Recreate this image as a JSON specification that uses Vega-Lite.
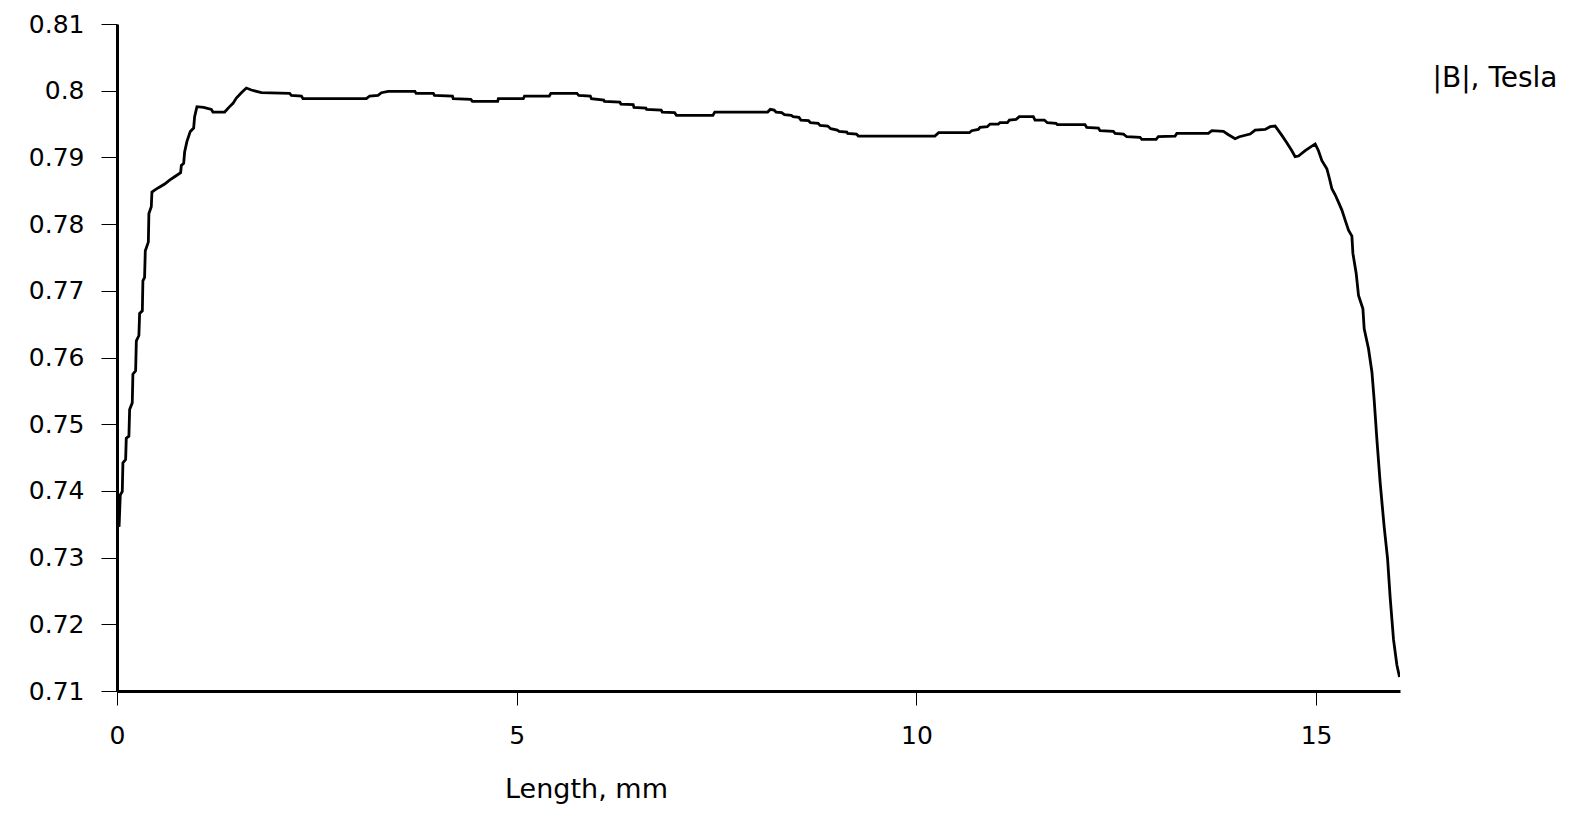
{
  "$schema": "https://vega.github.io/schema/vega-lite/v6.json",
  "width": 1283,
  "height": 667,
  "autosize": {"type": "none"},
  "padding": {"left": 117, "top": 24, "right": 174, "bottom": 135},
  "background": "white",
  "config": {"view": {"stroke": null}, "font": "DejaVu Sans"},
  "data": {"values": [
    {"L":0,"B":0.7343},{"L":0.014,"B":0.7384},{"L":0.026,"B":0.7346},{"L":0.041,"B":0.7394},
    {"L":0.066,"B":0.7399},{"L":0.074,"B":0.7442},{"L":0.108,"B":0.7447},{"L":0.116,"B":0.7479},
    {"L":0.149,"B":0.7482},{"L":0.158,"B":0.7522},{"L":0.191,"B":0.7532},{"L":0.199,"B":0.7575},
    {"L":0.233,"B":0.758},{"L":0.242,"B":0.7625},{"L":0.274,"B":0.7633},{"L":0.283,"B":0.7666},
    {"L":0.317,"B":0.767},{"L":0.324,"B":0.7715},{"L":0.345,"B":0.772},{"L":0.354,"B":0.776},
    {"L":0.392,"B":0.7773},{"L":0.399,"B":0.7816},{"L":0.429,"B":0.7826},{"L":0.437,"B":0.7848},
    {"L":0.471,"B":0.7851},{"L":0.524,"B":0.7855},{"L":0.596,"B":0.786},{"L":0.658,"B":0.7866},
    {"L":0.721,"B":0.7871},{"L":0.796,"B":0.7877},{"L":0.805,"B":0.7888},{"L":0.834,"B":0.7891},
    {"L":0.846,"B":0.7908},{"L":0.875,"B":0.7924},{"L":0.917,"B":0.7939},{"L":0.959,"B":0.7944},
    {"L":0.971,"B":0.7961},{"L":1.0,"B":0.7976},{"L":1.084,"B":0.7975},{"L":1.18,"B":0.7972},
    {"L":1.2,"B":0.7968},{"L":1.347,"B":0.7968},{"L":1.4,"B":0.7975},{"L":1.451,"B":0.7981},
    {"L":1.493,"B":0.7989},{"L":1.556,"B":0.7997},{"L":1.618,"B":0.8004},{"L":1.681,"B":0.8001},
    {"L":1.806,"B":0.7997},{"L":2.16,"B":0.7996},{"L":2.181,"B":0.7993},{"L":2.307,"B":0.7992},
    {"L":2.327,"B":0.7988},{"L":3.12,"B":0.7988},{"L":3.161,"B":0.7992},{"L":3.265,"B":0.7993},
    {"L":3.308,"B":0.7997},{"L":3.392,"B":0.7999},{"L":3.727,"B":0.7999},{"L":3.742,"B":0.7996},
    {"L":3.957,"B":0.7996},{"L":3.971,"B":0.7993},{"L":4.196,"B":0.7992},{"L":4.206,"B":0.7988},
    {"L":4.426,"B":0.7987},{"L":4.446,"B":0.7984},{"L":4.762,"B":0.7984},{"L":4.771,"B":0.7988},
    {"L":5.083,"B":0.7988},{"L":5.098,"B":0.7992},{"L":5.408,"B":0.7992},{"L":5.428,"B":0.7996},
    {"L":5.753,"B":0.7996},{"L":5.777,"B":0.7993},{"L":5.921,"B":0.7992},{"L":5.935,"B":0.7988},
    {"L":6.089,"B":0.7986},{"L":6.098,"B":0.7984},{"L":6.29,"B":0.7983},{"L":6.304,"B":0.798},
    {"L":6.457,"B":0.7979},{"L":6.467,"B":0.7975},{"L":6.616,"B":0.7974},{"L":6.625,"B":0.7972},
    {"L":6.807,"B":0.7971},{"L":6.821,"B":0.7968},{"L":6.975,"B":0.7967},{"L":6.999,"B":0.7963},
    {"L":7.454,"B":0.7963},{"L":7.478,"B":0.7968},{"L":8.139,"B":0.7968},{"L":8.173,"B":0.7972},
    {"L":8.22,"B":0.7971},{"L":8.244,"B":0.7968},{"L":8.315,"B":0.7967},{"L":8.349,"B":0.7964},
    {"L":8.435,"B":0.7963},{"L":8.459,"B":0.7961},{"L":8.531,"B":0.796},{"L":8.556,"B":0.7956},
    {"L":8.651,"B":0.7955},{"L":8.675,"B":0.7952},{"L":8.771,"B":0.7951},{"L":8.795,"B":0.7948},
    {"L":8.891,"B":0.7947},{"L":8.929,"B":0.7943},{"L":9.01,"B":0.7941},{"L":9.034,"B":0.7939},
    {"L":9.13,"B":0.7938},{"L":9.14,"B":0.7936},{"L":9.25,"B":0.7935},{"L":9.274,"B":0.7932},
    {"L":10.231,"B":0.7932},{"L":10.279,"B":0.7937},{"L":10.663,"B":0.7937},{"L":10.692,"B":0.794},
    {"L":10.775,"B":0.7942},{"L":10.796,"B":0.7945},{"L":10.887,"B":0.7946},{"L":10.921,"B":0.795},
    {"L":11.025,"B":0.795},{"L":11.046,"B":0.7952},{"L":11.138,"B":0.7952},{"L":11.163,"B":0.7956},
    {"L":11.247,"B":0.7957},{"L":11.288,"B":0.7961},{"L":11.463,"B":0.7961},{"L":11.484,"B":0.7956},
    {"L":11.601,"B":0.7956},{"L":11.638,"B":0.7952},{"L":11.747,"B":0.7951},{"L":11.763,"B":0.7949},
    {"L":12.11,"B":0.7949},{"L":12.131,"B":0.7945},{"L":12.277,"B":0.7944},{"L":12.298,"B":0.794},
    {"L":12.464,"B":0.7939},{"L":12.486,"B":0.7936},{"L":12.59,"B":0.7935},{"L":12.632,"B":0.7931},
    {"L":12.798,"B":0.793},{"L":12.82,"B":0.7927},{"L":12.999,"B":0.7927},{"L":13.027,"B":0.7931},
    {"L":13.236,"B":0.7932},{"L":13.258,"B":0.7936},{"L":13.653,"B":0.7936},{"L":13.696,"B":0.794},
    {"L":13.841,"B":0.7939},{"L":13.904,"B":0.7934},{"L":13.987,"B":0.7928},{"L":14.041,"B":0.7931},
    {"L":14.175,"B":0.7935},{"L":14.238,"B":0.7941},{"L":14.363,"B":0.7942},{"L":14.426,"B":0.7946},
    {"L":14.488,"B":0.7947},{"L":14.572,"B":0.7933},{"L":14.634,"B":0.7922},{"L":14.697,"B":0.791},
    {"L":14.738,"B":0.7901},{"L":14.78,"B":0.7902},{"L":14.864,"B":0.791},{"L":14.947,"B":0.7917},
    {"L":14.989,"B":0.792},{"L":15.03,"B":0.791},{"L":15.073,"B":0.7895},{"L":15.135,"B":0.7883},
    {"L":15.168,"B":0.7868},{"L":15.198,"B":0.7853},{"L":15.239,"B":0.7844},{"L":15.28,"B":0.7833},
    {"L":15.323,"B":0.7821},{"L":15.364,"B":0.7806},{"L":15.406,"B":0.7791},{"L":15.448,"B":0.7782},
    {"L":15.461,"B":0.7756},{"L":15.502,"B":0.7726},{"L":15.531,"B":0.7693},{"L":15.586,"B":0.7673},
    {"L":15.602,"B":0.7643},{"L":15.656,"B":0.7613},{"L":15.699,"B":0.7578},{"L":15.727,"B":0.7536},
    {"L":15.761,"B":0.7477},{"L":15.802,"B":0.7412},{"L":15.852,"B":0.7346},{"L":15.894,"B":0.7299},
    {"L":15.927,"B":0.724},{"L":15.969,"B":0.7177},{"L":16.011,"B":0.7139},{"L":16.044,"B":0.7121}
  ]},
  "mark": {"type": "line", "color": "black", "strokeWidth": 2.8, "clip": true},
  "encoding": {
    "x": {
      "field": "L", "type": "quantitative",
      "scale": {"domain": [0, 16.05], "nice": false, "zero": false},
      "axis": {
        "values": [0, 5, 10, 15], "grid": false, "labelFlush": false,
        "domainColor": "black", "domainWidth": 3,
        "tickColor": "black", "tickWidth": 1, "tickSize": 14,
        "labelFont": "DejaVu Sans", "labelFontSize": 25, "labelColor": "black", "labelPadding": 18,
        "title": "Length, mm", "titleFont": "DejaVu Sans", "titleFontSize": 27, "titleFontWeight": "normal",
        "titleColor": "black", "titleX": 469, "titleY": 98, "titleAlign": "center", "titleBaseline": "middle"
      }
    },
    "y": {
      "field": "B", "type": "quantitative",
      "scale": {"domain": [0.71, 0.81], "nice": false, "zero": false},
      "axis": {
        "values": [0.71, 0.72, 0.73, 0.74, 0.75, 0.76, 0.77, 0.78, 0.79, 0.8, 0.81],
        "format": ".2~f", "grid": false, "labelFlush": false,
        "domainColor": "black", "domainWidth": 3,
        "tickColor": "black", "tickWidth": 1, "tickSize": 16,
        "labelFont": "DejaVu Sans", "labelFontSize": 25, "labelColor": "black", "labelPadding": 17,
        "title": "|B|, Tesla", "titleFont": "DejaVu Sans", "titleFontSize": 28, "titleFontWeight": "normal",
        "titleColor": "black", "titleAngle": 0, "titleX": 1315, "titleY": 54, "titleAlign": "left", "titleBaseline": "middle"
      }
    }
  }
}
